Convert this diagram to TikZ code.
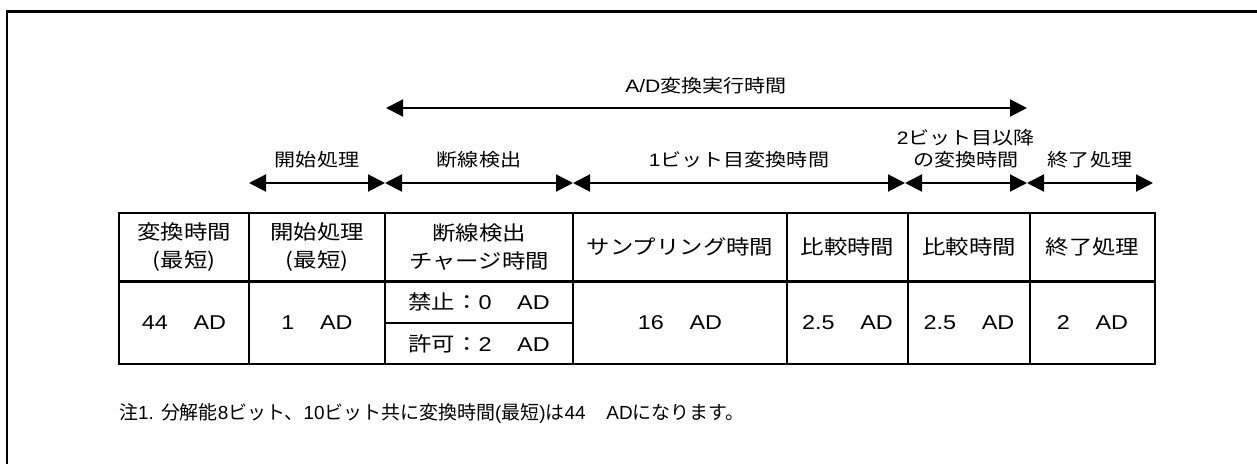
\documentclass[tikz,border=0pt]{standalone}
\usepackage{fontspec}
\setmainfont{Liberation Sans}[FakeStretch=1.17]
\newfontfamily\jp{Noto Sans CJK JP}[FakeStretch=1.17]
\newfontfamily\jpn{Noto Sans CJK JP}
\newfontfamily\latn{Liberation Sans}
\usetikzlibrary{arrows.meta}
\newcommand\gp{\hspace*{1.28em}}
\begin{document}
\begin{tikzpicture}[x=0.75pt,y=-0.75pt,
  lbl/.style={font=\fontsize{13.5}{16.5}\selectfont, inner sep=0pt, align=center},
  cell/.style={font=\fontsize{15}{21}\selectfont, inner sep=0pt, align=center},
  note/.style={font=\fontsize{14.2}{17}\selectfont\latn, inner sep=0pt, anchor=west},
  span/.style={{Triangle[length=12.75pt,width=12.75pt]}-{Triangle[length=12.75pt,width=12.75pt]}, line width=1.5pt},
  frameline/.style={line width=2pt},
  thickline/.style={line width=2.2pt},
  midline/.style={line width=1.6pt},
  thinline/.style={line width=1.1pt}]
\useasboundingbox (0,0) rectangle (1257,464);
% frame
\draw[frameline] (7,464) -- (7,11.5) -- (1257,11.5);
% top arrow
\coordinate (t0) at (386,108);
\coordinate (t1) at (1027,108);
\draw[span] (t0) -- (t1);
\node[lbl] (ttl) at (706,86) {A/D{\jp 変換実行時間}};
% row arrows
\coordinate (a0) at (249,183);
\coordinate (a1) at (385,183);
\coordinate (a2) at (573,183);
\coordinate (a3) at (905,183);
\coordinate (a4) at (1027,183);
\coordinate (a5) at (1153,183);
\draw[span] (a0) -- (a1);
\draw[span] (a1) -- (a2);
\draw[span] (a2) -- (a3);
\draw[span] (a3) -- (a4);
\draw[span] (a4) -- (a5);
\node[lbl] (l1) at (317,160) {\jp 開始処理};
\node[lbl] (l2) at (479,160) {\jp 断線検出};
\node[lbl] (l3) at (739,160) {1{\jp ビット目変換時間}};
\node[lbl] (l4) at (966,149) {2{\jp ビット目以降}\\{\jp の変換時間}};
\node[lbl] (l5) at (1090,160) {\jp 終了処理};
% table
\draw[thinline] (385,323) -- (573,323);
\draw[thinline] (249,213) -- (249,364);
\draw[midline] (385,213) -- (385,364);
\draw[thinline] (573,213) -- (573,364);
\draw[thinline] (787,213) -- (787,364);
\draw[thinline] (908,213) -- (908,364);
\draw[thinline] (1030,213) -- (1030,364);
\draw[thickline] (119,281.5) -- (1155,281.5);
\draw[thickline] (119,213) rectangle (1155,364);
% header cells
\node[cell] (h1) at (184,247) {\jp 変換時間\\\jp (最短)};
\node[cell] (h2) at (317,247) {\jp 開始処理\\\jp (最短)};
\node[cell] (h3) at (479,247) {\jp 断線検出\\\jp チャージ時間};
\node[cell] (h4) at (680,247) {\jp サンプリング時間};
\node[cell] (h5) at (847.5,247) {\jp 比較時間};
\node[cell] (h6) at (969,247) {\jp 比較時間};
\node[cell] (h7) at (1092.5,247) {\jp 終了処理};
% body cells
\node[cell] (b1) at (184,323) {44\gp AD};
\node[cell] (b2) at (317,323) {1\gp AD};
\node[cell] (b3a) at (479,302) {{\jp 禁止：}0\gp AD};
\node[cell] (b3b) at (479,343.5) {{\jp 許可：}2\gp AD};
\node[cell] (b4) at (680,323) {16\gp AD};
\node[cell] (b5) at (847.5,323) {2.5\gp AD};
\node[cell] (b6) at (969,323) {2.5\gp AD};
\node[cell] (b7) at (1092.5,323) {2\gp AD};
% note
\node[note] (nt) at (119,413) {{\jpn 注}1. {\jpn 分解能}8{\jpn ビット、}10{\jpn ビット共に変換時間}({\jpn 最短}){\jpn は}44\hspace*{1.1em}AD{\jpn になります。}};
\end{tikzpicture}
\end{document}
